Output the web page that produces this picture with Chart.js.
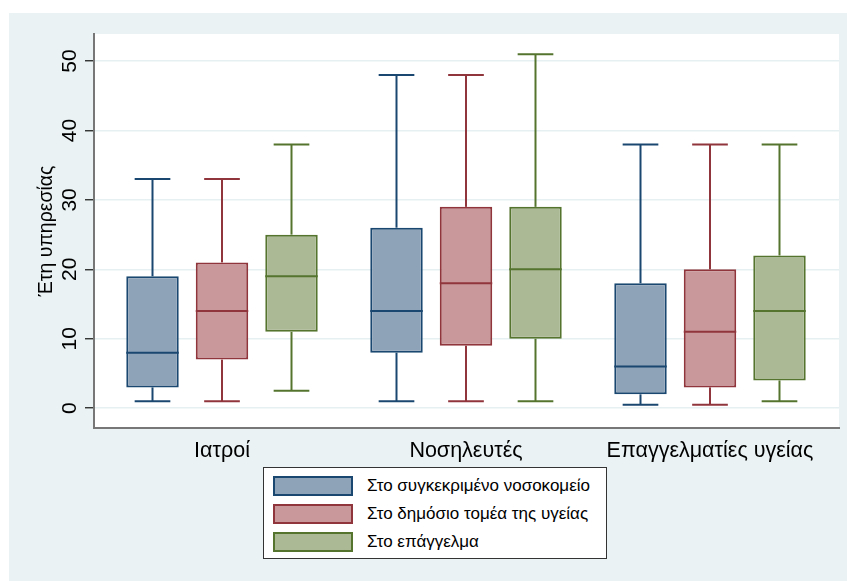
<!DOCTYPE html>
<html>
<head>
<meta charset="utf-8">
<script src="https://cdn.jsdelivr.net/npm/chart.js@4.4.1/dist/chart.umd.min.js"></script>
<style>
  body { margin: 0; background: #fff; font-family: "Liberation Sans", Arial, sans-serif; }
  #wrap { position: absolute; left: 9px; top: 13px; width: 838px; height: 568px; background: #eaf2f3; }
  #legend { position: absolute; left: 254px; top: 454px; width: 342px; height: 90px; background: #fff; border: 1px solid #333; }
  .item { position: absolute; left: 9px; height: 20px; }
  .swatch { position: absolute; left: 0; top: 0; width: 76px; height: 16px; border: 2px solid; }
  .label { position: absolute; left: 94px; top: 0; line-height: 20px; font-size: 17px; color: #000; white-space: nowrap; }
</style>
</head>
<body>
<div id="wrap">
  <canvas id="myChart" width="838" height="568"></canvas>
  <div id="legend"></div>
</div>
<script>
const groups = ["Ιατροί", "Νοσηλευτές", "Επαγγελματίες υγείας"];
const seriesNames = ["Στο συγκεκριμένο νοσοκομείο", "Στο δημόσιο τομέα της υγείας", "Στο επάγγελμα"];
const yTicks = [0, 10, 20, 30, 40, 50];

// min / lower quartile / median / upper quartile / max per group
const hospMin = [1, 1, 0.5];
const hospQ1 = [3, 8, 2];
const hospMed = [8, 14, 6];
const hospQ3 = [19, 26, 18];
const hospMax = [33, 48, 38];

const publicMin = [1, 1, 0.5];
const publicQ1 = [7, 9, 3];
const publicMed = [14, 18, 11];
const publicQ3 = [21, 29, 20];
const publicMax = [33, 48, 38];

const profMin = [2.5, 1, 1];
const profQ1 = [11, 10, 4];
const profMed = [19, 20, 14];
const profQ3 = [25, 29, 22];
const profMax = [38, 51, 38];

const fills = ["#8fa3b8", "#c9989b", "#abb995"];
const lines = ["#1a476f", "#90353b", "#55752f"];

const series = [
  { min: hospMin, q1: hospQ1, med: hospMed, q3: hospQ3, max: hospMax },
  { min: publicMin, q1: publicQ1, med: publicMed, q3: publicQ3, max: publicMax },
  { min: profMin, q1: profQ1, med: profMed, q3: profQ3, max: profMax },
];

const FONT = "'Liberation Sans', Arial, sans-serif";

// white plot region
const plotBg = {
  id: "plotBg",
  beforeDraw(chart) {
    const { ctx, chartArea: a } = chart;
    ctx.save();
    ctx.fillStyle = "#fff";
    ctx.fillRect(a.left, a.top, a.right - a.left, a.bottom - a.top);
    ctx.restore();
  },
};

// whiskers, caps and median lines
const boxParts = {
  id: "boxParts",
  afterDatasetsDraw(chart) {
    const { ctx } = chart;
    const y = chart.scales.y;
    series.forEach((s, i) => {
      const meta = chart.getDatasetMeta(i);
      ctx.save();
      ctx.strokeStyle = lines[i];
      ctx.lineWidth = 2;
      meta.data.forEach((bar, j) => {
        const x = bar.x;
        const w = bar.width;
        const cap = w * 0.34;
        const line = (x1, y1, x2, y2) => {
          ctx.beginPath();
          ctx.moveTo(x1, y1);
          ctx.lineTo(x2, y2);
          ctx.stroke();
        };
        line(x, y.getPixelForValue(s.q3[j]), x, y.getPixelForValue(s.max[j]));
        line(x, y.getPixelForValue(s.q1[j]), x, y.getPixelForValue(s.min[j]));
        line(x - cap, y.getPixelForValue(s.max[j]), x + cap, y.getPixelForValue(s.max[j]));
        line(x - cap, y.getPixelForValue(s.min[j]), x + cap, y.getPixelForValue(s.min[j]));
        line(x - w / 2, y.getPixelForValue(s.med[j]), x + w / 2, y.getPixelForValue(s.med[j]));
      });
      ctx.restore();
    });
  },
};

const ctx = document.getElementById("myChart").getContext("2d");

const myChart = new Chart(ctx, {
  type: "bar",
  data: {
    datasets: series.map((s, i) => ({
      label: seriesNames[i],
      data: groups.map((g, j) => ({ x: j, y: [s.q1[j], s.q3[j]] })),
      backgroundColor: fills[i],
      borderColor: lines[i],
      borderWidth: 2,
      borderSkipped: false,
      categoryPercentage: 0.8545,
      barPercentage: 0.755,
    })),
  },
  options: {
    responsive: false,
    animation: false,
    layout: { padding: { left: 0, top: 21, right: 8, bottom: 0 } },
    plugins: { legend: { display: false }, tooltip: { enabled: false } },
    scales: {
      x: {
        type: "linear",
        offset: false,
        min: -0.5246,
        max: 2.5287,
        afterFit: (scale) => { scale.height = 153; },
        grid: { display: false, drawTicks: false },
        border: { display: true, color: "#777", width: 2 },
        ticks: {
          stepSize: 1,
          includeBounds: false,
          padding: 10,
          color: "#000",
          font: { family: FONT, size: 21.5 },
          callback: (v) => groups[v] ?? "",
        },
      },
      y: {
        min: -2.85,
        max: 53.9,
        afterFit: (scale) => { scale.width = 85; },
        grid: { color: "#e6eff1", lineWidth: 1.5, tickColor: "#222", tickLength: 9, tickWidth: 1.3 },
        border: { display: true, color: "#777", width: 2 },
        afterBuildTicks: (scale) => { scale.ticks = yTicks.map((v) => ({ value: v })); },
        ticks: {
          minRotation: 90,
          maxRotation: 90,
          crossAlign: "center",
          padding: 3,
          color: "#000",
          font: { family: FONT, size: 21 },
        },
        title: {
          display: true,
          text: "Έτη υπηρεσίας",
          color: "#000",
          font: { family: FONT, size: 19.5 },
          padding: { top: 26, bottom: 0 },
        },
      },
    },
  },
  plugins: [plotBg, boxParts],
});

// legend box
const legend = document.getElementById("legend");
seriesNames.forEach((name, i) => {
  const item = document.createElement("div");
  item.className = "item";
  item.style.top = 8 + i * 28 + "px";
  item.innerHTML =
    `<div class="swatch" style="background:${fills[i]};border-color:${lines[i]}"></div>` +
    `<div class="label">${name}</div>`;
  legend.appendChild(item);
});
</script>
</body>
</html>
